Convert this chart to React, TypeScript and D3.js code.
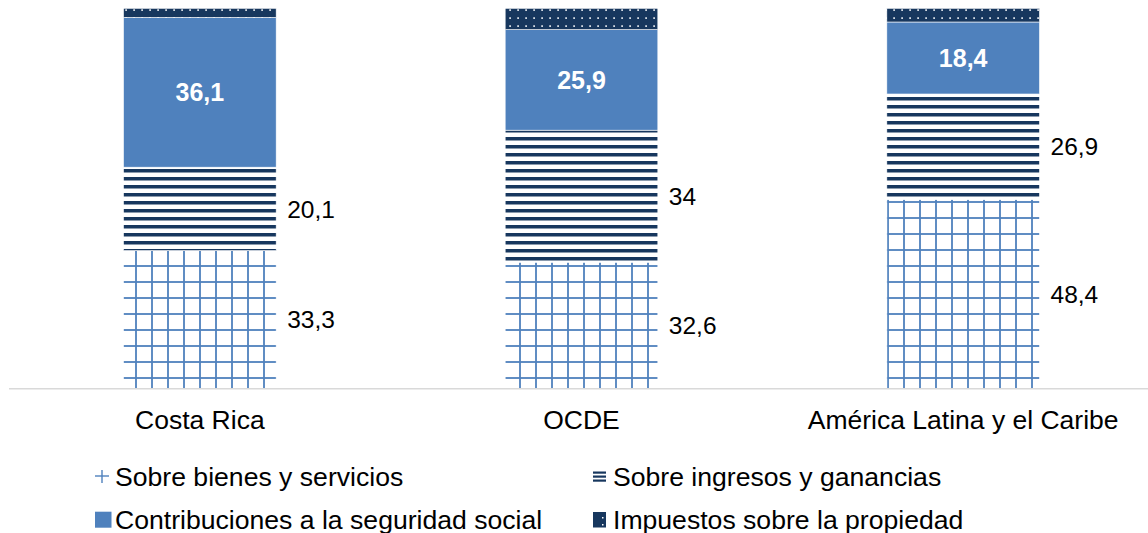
import React from "react";
import * as d3 from "d3";

const categories = ["Costa Rica", "OCDE", "América Latina y el Caribe"];
const goodsServices = [33.3, 32.6, 48.4];
const incomeProfits = [20.1, 34, 26.9];
const socialSecurity = [36.1, 25.9, 18.4];
const propertyTaxes = [2.2, 5.5, 3.5];

const seriesKeys = ["goods", "income", "social", "property"];
const seriesNames = [
  "Sobre bienes y servicios",
  "Sobre ingresos y ganancias",
  "Contribuciones a la seguridad social",
  "Impuestos sobre la propiedad",
];

const W = 1148;
const H = 533;
const NAVY = "#17375e";
const BLUE = "#4f81bd";
const FONT = "'Liberation Sans', Arial, sans-serif";

const fmt = (v: number) => String(v).replace(".", ",");

export default function App() {
  const rows = categories.map((c, i) => ({
    cat: c,
    goods: goodsServices[i],
    income: incomeProfits[i],
    social: socialSecurity[i],
    property: propertyTaxes[i],
  }));
  const stacked = d3
    .stack<any>()
    .keys(seriesKeys)
    .offset(d3.stackOffsetExpand)(rows);

  const x = d3
    .scaleBand<string>()
    .domain(categories)
    .range([9, 1154])
    .paddingInner(0.6)
    .paddingOuter(0.3);
  const y = d3.scaleLinear().domain([0, 1]).range([388.7, 8.3]);

  const fills = ["url(#pGoods)", "url(#pIncome)", BLUE, "url(#pProperty)"];
  const bw = x.bandwidth();

  const legendCols = [95, 592];
  const legendRows = [477, 520];

  return (
    <svg
      width={W}
      height={H}
      style={{ position: "absolute", left: 0, top: 0, background: "#fff" }}
      fontFamily={FONT}
    >
      <defs>
        <pattern id="pGoods" patternUnits="userSpaceOnUse" x={128} y={258} width={16} height={16}>
          <rect width={16} height={16} fill="#fff" />
          <rect x={7.1} y={0} width={1.8} height={16} fill={BLUE} />
          <rect x={0} y={7.1} width={16} height={1.8} fill={BLUE} />
        </pattern>
        <pattern id="pIncome" patternUnits="userSpaceOnUse" x={0} y={0} width={8} height={8}>
          <rect width={8} height={8} fill="#fff" />
          <rect x={0} y={1} width={8} height={3.5} fill={NAVY} />
        </pattern>
        <pattern id="pProperty" patternUnits="userSpaceOnUse" x={0} y={0} width={8} height={8}>
          <rect width={8} height={8} fill={NAVY} />
          <rect x={5.3} y={1.3} width={1.6} height={1.6} fill="#fff" />
        </pattern>
      </defs>

      {stacked.map((layer, si) =>
        layer.map((d, i) => {
          const x0 = x(categories[i])!;
          return (
            <rect
              key={`${si}-${i}`}
              x={x0}
              y={y(d[1])}
              width={bw}
              height={y(d[0]) - y(d[1])}
              fill={fills[si]}
              stroke="#fff"
              strokeWidth={0.6}
            />
          );
        })
      )}

      <line x1={9} x2={W} y1={388.7} y2={388.7} stroke="#d9d9d9" strokeWidth={1.5} />

      {/* value labels */}
      {stacked.slice(0, 3).map((layer, si) =>
        layer.map((d, i) => {
          const x0 = x(categories[i])!;
          const cy = (y(d[0]) + y(d[1])) / 2;
          const v = (d.data as any)[seriesKeys[si]];
          if (si === 2) {
            return (
              <text
                key={`l${si}-${i}`}
                x={x0 + bw / 2}
                y={cy}
                dy="0.36em"
                textAnchor="middle"
                fill="#fff"
                fontWeight="bold"
                fontSize={25}
              >
                {fmt(v)}
              </text>
            );
          }
          return (
            <text
              key={`l${si}-${i}`}
              x={x0 + bw + 11}
              y={cy}
              dy="0.36em"
              textAnchor="start"
              fill="#000"
              fontSize={24.5}
            >
              {fmt(v)}
            </text>
          );
        })
      )}

      {/* category labels */}
      {categories.map((c) => (
        <text
          key={c}
          x={x(c)! + bw / 2}
          y={429}
          textAnchor="middle"
          fontSize={26.5}
          fill="#000"
        >
          {c}
        </text>
      ))}

      {/* legend */}
      {seriesNames.map((name, i) => {
        const lx = legendCols[i % 2];
        const ly = legendRows[Math.floor(i / 2)];
        let swatch: React.ReactNode = null;
        if (i === 0) {
          swatch = (
            <g stroke={BLUE} strokeWidth={1.4}>
              <line x1={lx} x2={lx + 14} y1={ly - 1} y2={ly - 1} />
              <line x1={lx + 7} x2={lx + 7} y1={ly - 7} y2={ly + 6} />
            </g>
          );
        } else if (i === 1) {
          swatch = (
            <g fill={NAVY}>
              {[-4.5, -0.5, 3.5].map((o) => (
                <rect key={o} x={lx + 1} y={ly + o - 1} width={13} height={2.2} />
              ))}
            </g>
          );
        } else if (i === 2) {
          swatch = <rect x={lx} y={ly - 8.3} width={16.5} height={16} fill={BLUE} />;
        } else {
          swatch = (
            <g>
              <rect x={lx + 1} y={ly - 8} width={13} height={15.5} fill={NAVY} />
              <rect x={lx + 10} y={ly - 3} width={1.5} height={1.5} fill="#fff" />
              <rect x={lx + 10} y={ly + 4} width={1.5} height={1.5} fill="#fff" />
            </g>
          );
        }
        return (
          <g key={name}>
            {swatch}
            <text x={lx + (i % 2 === 0 ? 20 : 21)} y={ly + 8.5} fontSize={26.6} fill="#000">
              {name}
            </text>
          </g>
        );
      })}
    </svg>
  );
}
